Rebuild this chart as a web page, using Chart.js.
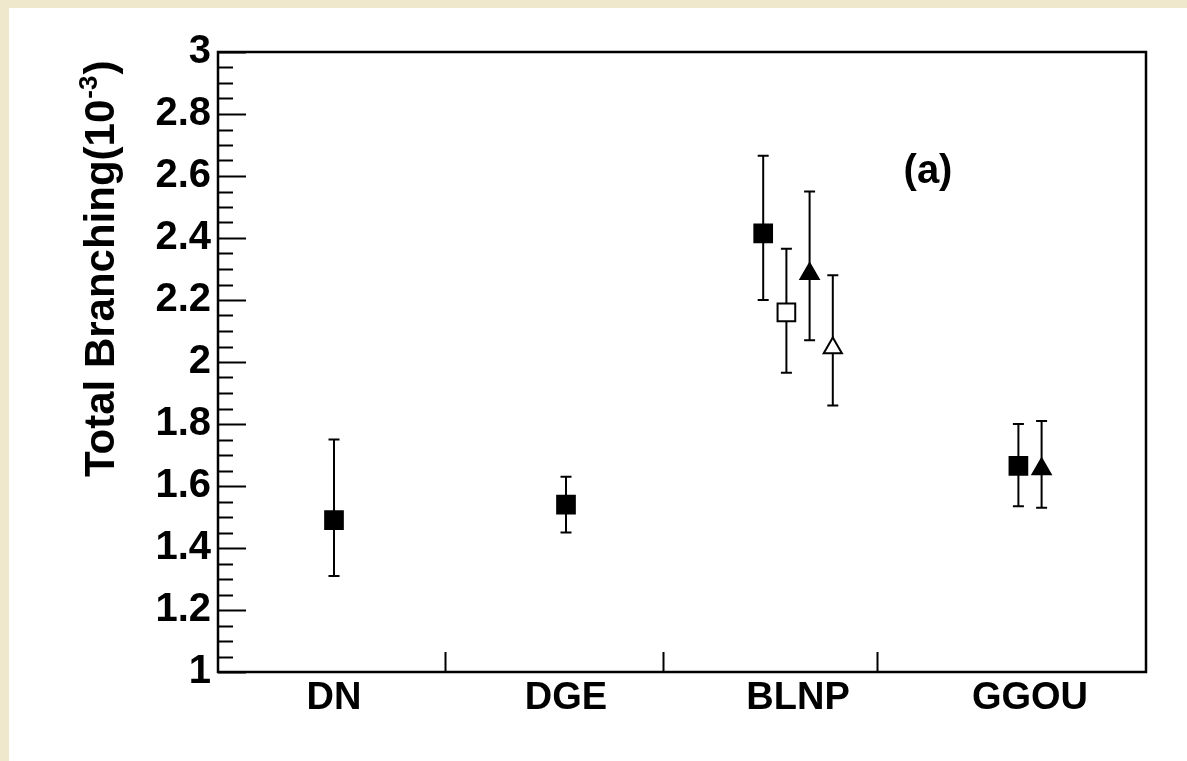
<!DOCTYPE html>
<html>
<head>
<meta charset="utf-8">
<script src="https://cdn.jsdelivr.net/npm/chart.js@4/dist/chart.umd.min.js"></script>
<style>
  html, body { margin: 0; padding: 0; background: #efe8cc; overflow: hidden; }
  #c { position: absolute; left: 0; top: 0; }
</style>
</head>
<body>
<canvas id="c" width="1187" height="761"></canvas>
<script>
// categories on the x axis (centred at 0.5, 1.5, ...)
const categories = ['DN', 'DGE', 'BLNP', 'GGOU'];
const categoryPos = [0.5, 1.5, 2.5, 3.5];
const xTickMarks = [0.98, 1.92, 2.84];

// y axis ticks
const yMajorTicks = [1, 1.2, 1.4, 1.6, 1.8, 2, 2.2, 2.4, 2.6, 2.8, 3];
const yTickLabels = ['1', '1.2', '1.4', '1.6', '1.8', '2', '2.2', '2.4', '2.6', '2.8', '3'];

// filled squares
const fsqX  = [0.5, 1.5, 2.35, 3.45];
const fsqY  = [1.49, 1.54, 2.415, 1.665];
const fsqLo = [1.31, 1.45, 2.20, 1.535];
const fsqHi = [1.75, 1.63, 2.665, 1.80];

// open square
const osqX  = [2.45];
const osqY  = [2.16];
const osqLo = [1.965];
const osqHi = [2.365];

// filled triangles
const ftrX  = [2.55, 3.55];
const ftrY  = [2.285, 1.655];
const ftrLo = [2.07, 1.53];
const ftrHi = [2.55, 1.81];

// open triangle
const otrX  = [2.65];
const otrY  = [2.045];
const otrLo = [1.86];
const otrHi = [2.28];

const FONT = "'Liberation Sans', Arial, Helvetica, sans-serif";

function pts(xs, ys){ return xs.map((x, i) => ({ x: x, y: ys[i] })); }

function makeSet(label, xs, ys, lo, hi, style, fill){
  return {
    label: label,
    data: pts(xs, ys),
    errLo: lo,
    errHi: hi,
    showLine: false,
    pointStyle: style,
    pointRadius: style === 'rect' ? 12.5 : 10.5,
    pointHoverRadius: style === 'rect' ? 12.5 : 10.5,
    backgroundColor: fill,
    borderColor: '#000',
    borderWidth: 2
  };
}

const decor = {
  id: 'decor',
  beforeDraw(chart){
    const c = chart.ctx;
    c.save();
    c.fillStyle = '#efe8cc';
    c.fillRect(0, 0, chart.width, chart.height);
    c.fillStyle = '#ffffff';
    c.fillRect(9, 8, chart.width - 9, chart.height - 8);
    c.restore();
  },
  beforeDatasetsDraw(chart){
    const c = chart.ctx;
    const xs = chart.scales.x, ys = chart.scales.y;
    c.save();
    c.strokeStyle = '#000';
    c.lineWidth = 2;
    chart.data.datasets.forEach((ds) => {
      ds.data.forEach((p, i) => {
        const px = xs.getPixelForValue(p.x);
        const yl = ys.getPixelForValue(ds.errLo[i]);
        const yh = ys.getPixelForValue(ds.errHi[i]);
        c.beginPath();
        c.moveTo(px, yl); c.lineTo(px, yh);
        c.moveTo(px - 5.5, yl); c.lineTo(px + 5.5, yl);
        c.moveTo(px - 5.5, yh); c.lineTo(px + 5.5, yh);
        c.stroke();
      });
    });
    c.restore();
  },
  afterDraw(chart){
    const c = chart.ctx;
    const a = chart.chartArea;
    const xs = chart.scales.x, ys = chart.scales.y;
    c.save();
    c.strokeStyle = '#000';
    c.lineWidth = 2.5;
    c.strokeRect(a.left, a.top, a.right - a.left, a.bottom - a.top);

    // y ticks: major every 0.2, minor every 0.05
    c.lineWidth = 2;
    c.beginPath();
    for (let k = 0; k <= 40; k++){
      const v = 1 + k * 0.05;
      const py = Math.round(ys.getPixelForValue(v)) + 0.5;
      const len = (k % 4 === 0) ? 28 : 15;
      c.moveTo(a.left, py); c.lineTo(a.left + len, py);
    }
    xTickMarks.forEach(v => {
      const px = Math.round(xs.getPixelForValue(v)) + 0.5;
      c.moveTo(px, a.bottom); c.lineTo(px, a.bottom - 20);
    });
    c.stroke();

    // y title with superscript
    c.fillStyle = '#000';
    c.translate(114, 477);
    c.rotate(-Math.PI / 2);
    c.textAlign = 'left';
    c.textBaseline = 'alphabetic';
    c.font = 'bold 42px ' + FONT;
    const main = 'Total Branching(10';
    c.fillText(main, 0, 0);
    let w = c.measureText(main).width;
    c.font = 'bold 26px ' + FONT;
    c.fillText('-3', w + 1, -17);
    w += c.measureText('-3').width + 2;
    c.font = 'bold 42px ' + FONT;
    c.fillText(')', w, 0);
    c.setTransform(1, 0, 0, 1, 0, 0);

    // panel label
    c.font = 'bold 40px ' + FONT;
    c.textAlign = 'center';
    c.textBaseline = 'middle';
    c.fillText('(a)', 928, 172);
    c.restore();
  }
};

new Chart(document.getElementById('c'), {
  type: 'scatter',
  data: {
    datasets: [
      makeSet('filled square', fsqX, fsqY, fsqLo, fsqHi, 'rect', '#000'),
      makeSet('open square', osqX, osqY, osqLo, osqHi, 'rect', '#fff'),
      makeSet('filled triangle', ftrX, ftrY, ftrLo, ftrHi, 'triangle', '#000'),
      makeSet('open triangle', otrX, otrY, otrLo, otrHi, 'triangle', '#fff')
    ]
  },
  options: {
    responsive: false,
    animation: false,
    layout: { padding: { top: 52, right: 41, left: 0, bottom: 0 } },
    plugins: { legend: { display: false }, tooltip: { enabled: false } },
    scales: {
      x: {
        type: 'linear', min: 0, max: 4,
        grid: { display: false, drawTicks: false },
        border: { display: false },
        afterBuildTicks: (s) => { s.ticks = categoryPos.map(v => ({ value: v })); },
        afterFit: (s) => { s.height = 89; },
        ticks: {
          color: '#000', padding: 4, maxRotation: 0, autoSkip: false,
          font: { family: FONT, size: 38, weight: 'bold' },
          callback: (v, i) => categories[i]
        }
      },
      y: {
        type: 'linear', min: 1, max: 3,
        grid: { display: false, drawTicks: false },
        border: { display: false },
        afterBuildTicks: (s) => { s.ticks = yMajorTicks.map(v => ({ value: v })); },
        afterFit: (s) => { s.width = 218; },
        ticks: {
          color: '#000', padding: 7, autoSkip: false,
          font: { family: FONT, size: 40, weight: 'bold' },
          callback: (v, i) => yTickLabels[i]
        }
      }
    }
  },
  plugins: [decor]
});
</script>
</body>
</html>
